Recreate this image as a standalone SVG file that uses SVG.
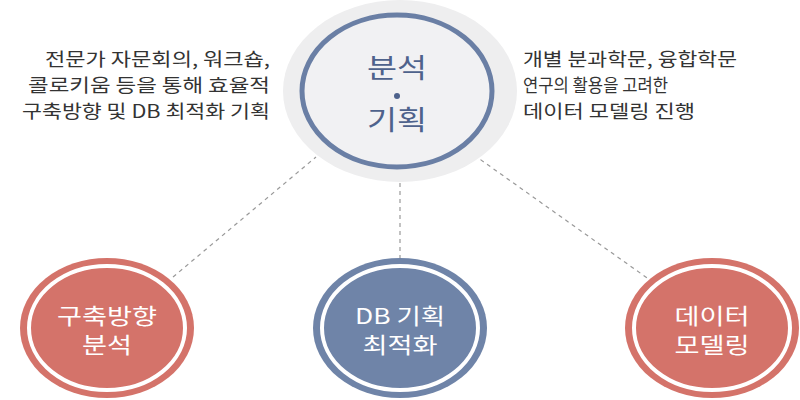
<svg xmlns="http://www.w3.org/2000/svg" width="800" height="400" viewBox="0 0 800 400">
<style>
text{font-family:"Noto Sans CJK KR","Noto Sans",sans-serif}
.d{font-size:18px;fill:#333}
.w{font-size:22px;fill:#fff;text-anchor:middle}
.c{stroke:#999;stroke-width:1.2;stroke-dasharray:4 4;fill:none}
</style>
<rect width="800" height="400" fill="#fff"/>
<g id="connectors">
<line class="c" x1="173" y1="277" x2="316" y2="157"/>
<line class="c" x1="400" y1="183" x2="400" y2="258"/>
<line class="c" x1="474" y1="155" x2="650" y2="280"/>
</g>
<g id="top">
<ellipse cx="400" cy="91" rx="117" ry="91" fill="#eeeeef"/>
<ellipse cx="397" cy="91" rx="95" ry="76" fill="#f1f1f3" stroke="#6a7fa5" stroke-width="5"/>
<text x="397" y="78" font-size="27" fill="#4e628c" text-anchor="middle" textLength="60" lengthAdjust="spacingAndGlyphs">분석</text>
<circle cx="397" cy="96" r="3" fill="#4e628c"/>
<text x="397" y="130" font-size="27" fill="#4e628c" text-anchor="middle" textLength="60" lengthAdjust="spacingAndGlyphs">기획</text>
</g>
<g id="textL">
<text class="d" x="45" y="66" textLength="225" lengthAdjust="spacingAndGlyphs">전문가 자문회의, 워크숍,</text>
<text class="d" x="28" y="92" textLength="242" lengthAdjust="spacingAndGlyphs">콜로키움 등을 통해 효율적</text>
<text class="d" x="22" y="118" textLength="248" lengthAdjust="spacingAndGlyphs">구축방향 및 DB 최적화 기획</text>
</g>
<g id="textR">
<text class="d" x="523" y="66" textLength="214" lengthAdjust="spacingAndGlyphs">개별 분과학문, 융합학문</text>
<text class="d" x="523" y="92" textLength="145" lengthAdjust="spacingAndGlyphs">연구의 활용을 고려한</text>
<text class="d" x="523" y="118" textLength="172" lengthAdjust="spacingAndGlyphs">데이터 모델링 진행</text>
</g>
<g id="n1">
<ellipse cx="107" cy="328" rx="87" ry="70" fill="#d4736a"/>
<ellipse cx="107" cy="328" rx="78" ry="62" fill="none" stroke="#fff" stroke-width="4"/>
<text class="w" x="107" y="324" textLength="100" lengthAdjust="spacingAndGlyphs">구축방향</text>
<text class="w" x="107" y="353" textLength="50" lengthAdjust="spacingAndGlyphs">분석</text>
</g>
<g id="n2">
<ellipse cx="400" cy="328" rx="87" ry="70" fill="#6f84a8"/>
<ellipse cx="400" cy="328" rx="78" ry="62" fill="none" stroke="#fff" stroke-width="4"/>
<text class="w" x="400" y="324" textLength="90" lengthAdjust="spacingAndGlyphs">DB 기획</text>
<text class="w" x="400" y="353" textLength="75" lengthAdjust="spacingAndGlyphs">최적화</text>
</g>
<g id="n3">
<ellipse cx="712" cy="328" rx="87" ry="70" fill="#d4736a"/>
<ellipse cx="712" cy="328" rx="78" ry="62" fill="none" stroke="#fff" stroke-width="4"/>
<text class="w" x="712" y="324" textLength="75" lengthAdjust="spacingAndGlyphs">데이터</text>
<text class="w" x="712" y="353" textLength="75" lengthAdjust="spacingAndGlyphs">모델링</text>
</g>
</svg>
